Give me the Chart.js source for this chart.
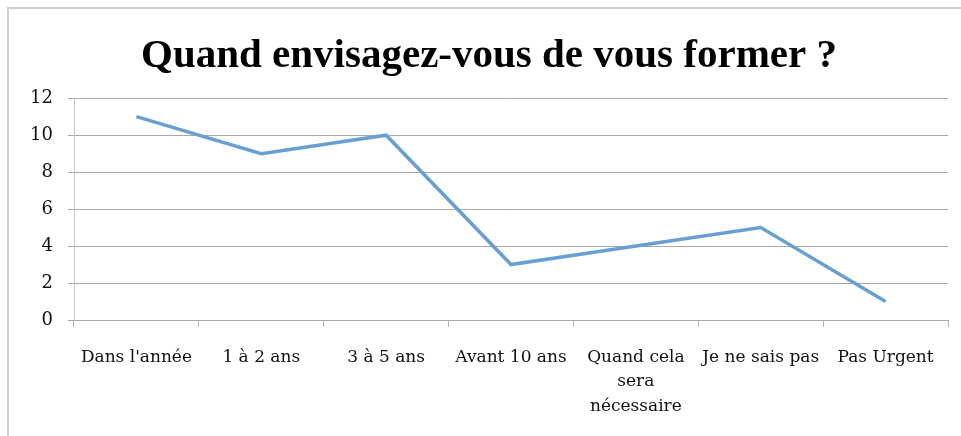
<!DOCTYPE html>
<html>
<head>
<meta charset="utf-8">
<script src="https://cdn.jsdelivr.net/npm/chart.js@4.4.1/dist/chart.umd.min.js"></script>
<style>
  html, body { margin: 0; padding: 0; background: #ffffff; overflow: hidden; }
  #frame { position: absolute; left: 7px; top: 7px; width: 1000px; height: 500px;
           border-left: 2px solid #cfcfcf; border-top: 2px solid #cfcfcf; }
  #c { position: absolute; left: 0; top: 0; }
</style>
</head>
<body>
<div id="frame"></div>
<canvas id="c" width="961" height="436"></canvas>
<script>
const titleText = "Quand envisagez-vous de vous former ?";
const categories = [
  "Dans l'année",
  "1 à 2 ans",
  "3 à 5 ans",
  "Avant 10 ans",
  ["Quand cela", "sera", "nécessaire"],
  "Je ne sais pas",
  "Pas Urgent"
];
const values = [11, 9, 10, 3, 4, 5, 1];
const yTicks = [0, 2, 4, 6, 8, 10, 12];

const tickFont = { family: "'DejaVu Serif', 'Liberation Serif', serif", size: 17, lineHeight: 1.45 };

// shift the title's horizontal centre to match the reference
const titleShift = {
  id: 'titleShift',
  afterLayout(chart) {
    if (chart.titleBlock) {
      chart.titleBlock.left = 30;
      chart.titleBlock.right = 948;
    }
  }
};

new Chart(document.getElementById('c'), {
  type: 'line',
  data: {
    labels: categories,
    datasets: [{
      data: values,
      borderColor: '#6a9fd2',
      borderWidth: 3.5,
      pointRadius: 0,
      pointHoverRadius: 0,
      tension: 0,
      fill: false
    }]
  },
  plugins: [titleShift],
  options: {
    responsive: false,
    animation: false,
    events: [],
    layout: { padding: { left: 0, right: 13, top: 0, bottom: 0 } },
    plugins: {
      legend: { display: false },
      tooltip: { enabled: false },
      title: {
        display: true,
        text: titleText,
        color: '#000000',
        font: { family: "'Liberation Serif', serif", size: 41, weight: 'bold', lineHeight: 1.2 },
        padding: { top: 32, bottom: 17 }
      }
    },
    scales: {
      x: {
        offset: true,
        grid: { display: true, drawOnChartArea: false, drawTicks: true, tickLength: 7, color: '#b4b4b4', offset: true },
        border: { display: true, color: '#a8a8a8', width: 1 },
        ticks: { font: tickFont, color: '#111111', maxRotation: 0, autoSkip: false, padding: 18 },
        afterFit: s => { s.height = 116; }
      },
      y: {
        min: 0,
        max: 12,
        afterBuildTicks: s => { s.ticks = yTicks.map(v => ({ value: v })); },
        grid: { color: '#a8a8a8', tickLength: 6, lineWidth: 1 },
        border: { display: true, color: '#c4c4c4', width: 1 },
        ticks: { font: { family: "'DejaVu Serif', 'Liberation Serif', serif", size: 18 }, color: '#111111', padding: 15 },
        afterFit: s => { s.width = 74; }
      }
    }
  }
});
</script>
</body>
</html>
